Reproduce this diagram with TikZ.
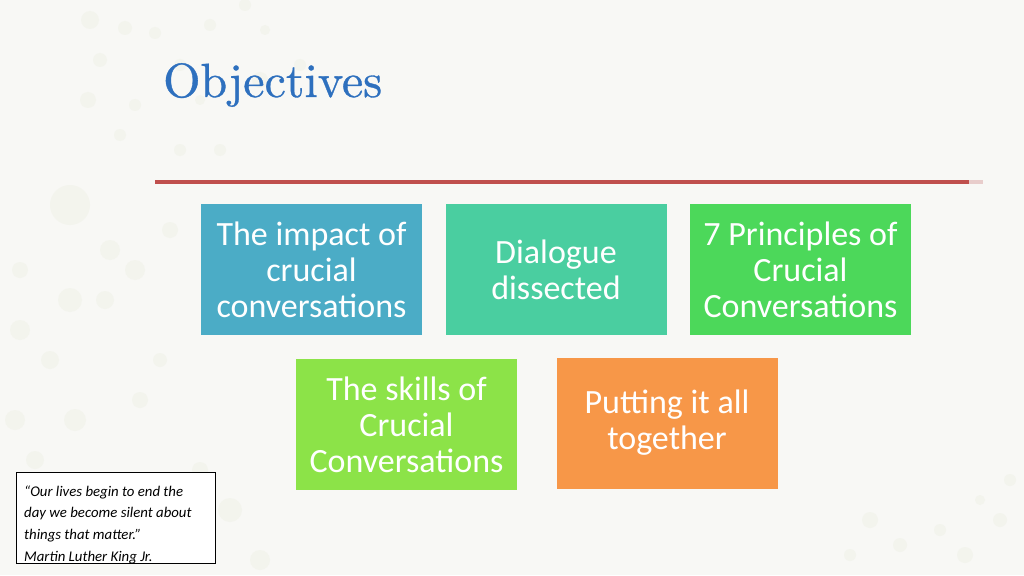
\documentclass[tikz,border=0pt]{standalone}
\usepackage{fontspec}
\setmainfont{Carlito}
\newfontfamily\titlefont{lmroman10-regular.otf}[FakeBold=0.7]
\definecolor{bg}{RGB}{248,248,245}
\definecolor{dot}{RGB}{243,244,237}
\definecolor{titleblue}{RGB}{46,112,190}
\definecolor{rulered}{RGB}{192,80,77}
\definecolor{rulepink}{RGB}{232,205,203}
\definecolor{cblue}{RGB}{75,172,198}
\definecolor{cteal}{RGB}{74,206,160}
\definecolor{cgreen}{RGB}{76,216,90}
\definecolor{clime}{RGB}{140,227,72}
\definecolor{corange}{RGB}{247,151,72}
\tikzset{
  card/.style={fill=#1, draw=none, minimum width=221pt, minimum height=131pt, text=white,
    align=center, font=\fontsize{34}{36}\selectfont, inner sep=0pt},
  dotc/.style={fill=dot, draw=none}
}
\begin{document}
\begin{tikzpicture}[x=1pt,y=-1pt]
\useasboundingbox (0,0) rectangle (1024,575);
\fill[bg] (0,0) rectangle (1024,575);
% faint decorative dots
\foreach \px/\py/\r in {90/20/9,125/28/7,155/33/6,100/60/7,88/100/8,135/105/6,120/135/6,180/150/6,220/150/6,70/205/20,135/270/10,20/270/8,70/300/12,20/330/10,105/300/9,50/360/9,160/360/7,15/420/10,75/420/11,140/400/8,35/460/9,200/470/8,230/510/12,260/560/10,245/5/6,210/25/6,265/30/5,260/80/8,300/65/6,180/65/6,200/100/5,50/520/9,110/250/10,170/230/8,870/520/8,900/545/7,940/530/6,965/555/8,850/555/6,1000/520/7,1010/480/6,980/500/5}
  \fill[dotc] (\px,\py) circle (\r);
% title
\node[anchor=base west, text=titleblue, font=\titlefont\fontsize{48}{54}\selectfont, inner sep=0pt] (title) at (163,97) {Objectives};
% rule
\coordinate (r1) at (155,182);
\coordinate (r2) at (969,182);
\coordinate (r3) at (983,182);
\draw[rulepink, line width=3.5pt] (r2) -- (r3);
\draw[rulered, line width=3.5pt] (r1) -- (r2);
% cards
\node[card=cblue] (c1) at (311.5,269.5) {The impact of\\crucial\\conversations};
\node[card=cteal] (c2) at (556,269.5) {Dialogue\\dissected};
\node[card=cgreen] (c3) at (800.5,269.5) {7 Principles of\\Crucial\\Conversations};
\node[card=clime] (c4) at (406.5,424.5) {The skills of\\Crucial\\Conversations};
\node[card=corange] (c5) at (667,423) {Putting it all\\together};
% quote
\node[draw=black, line width=0.8pt, fill=white, minimum width=199pt, minimum height=91pt, anchor=north west, inner sep=0pt] (qbox) at (16,472) {};
\node[anchor=north west, align=left, font=\itshape\fontsize{14.8}{21.6}\selectfont, inner sep=0pt] (qtext) at (24,485.5)
  {\textquotedblleft Our lives begin to end the\\day we become silent about\\things that matter.\textquotedblright\\Martin Luther King Jr.};
\end{tikzpicture}
\end{document}
